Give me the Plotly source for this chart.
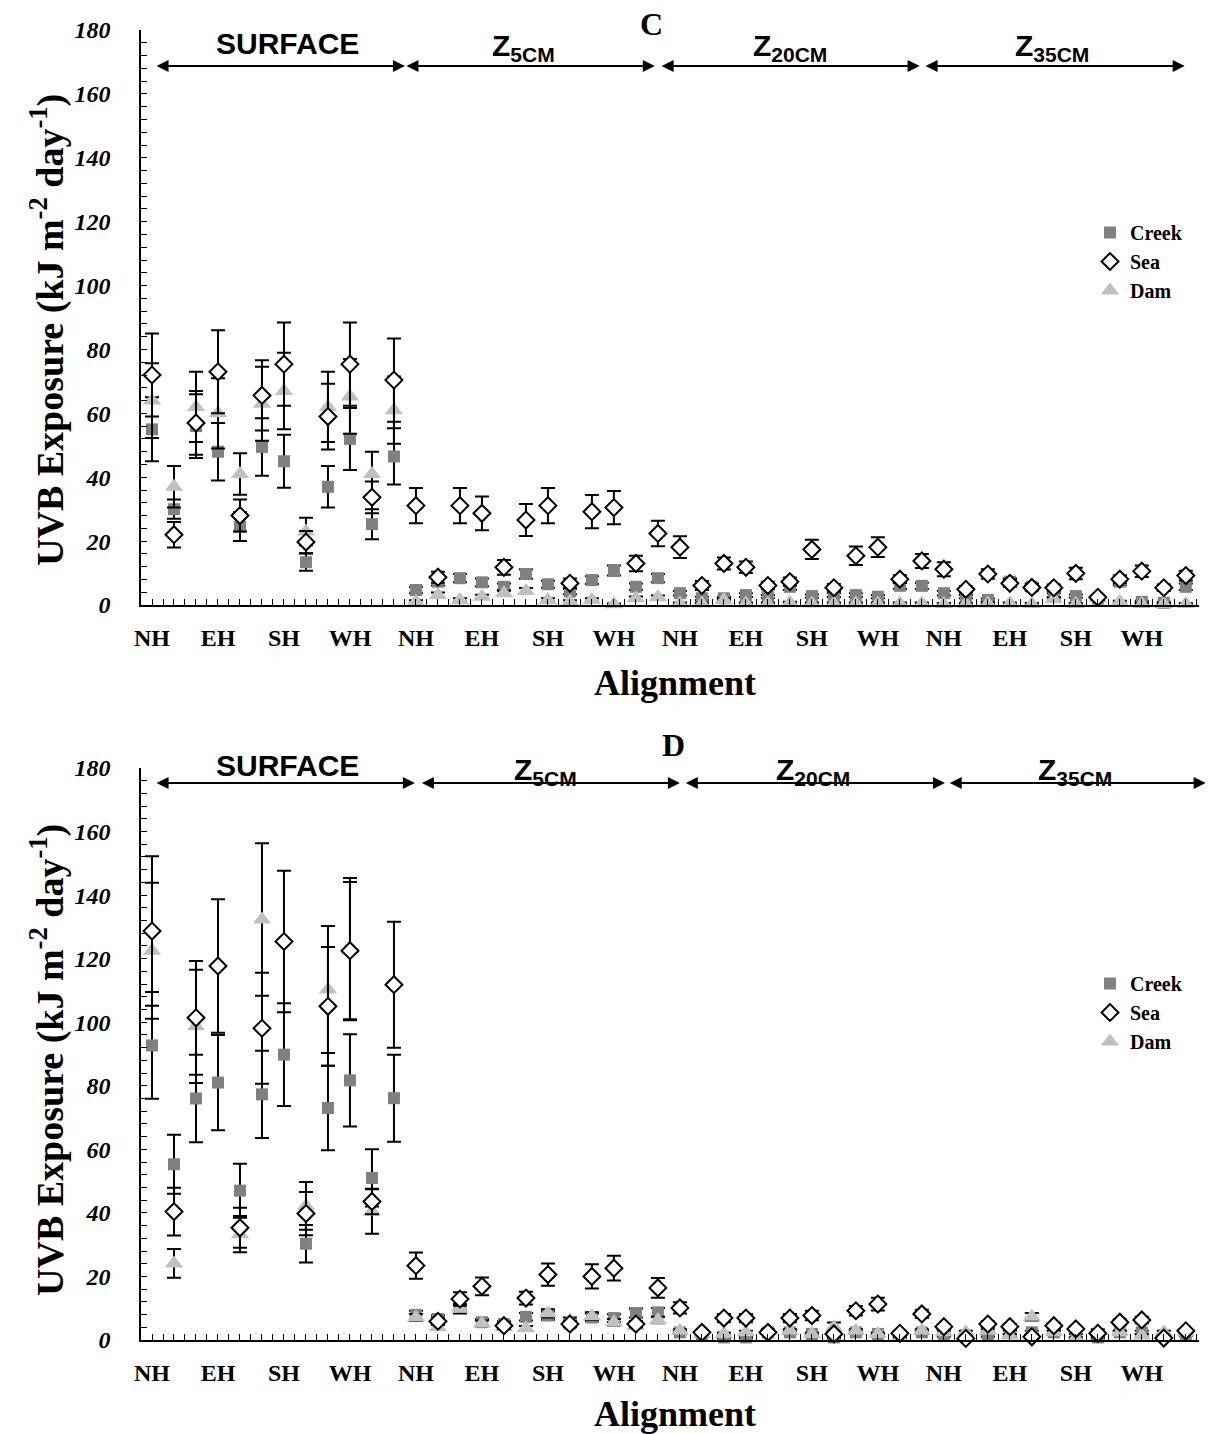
import plotly.graph_objects as go

# ---------------- data ----------------
alignments = ["NH", "", "", "EH", "", "", "SH", "", "", "WH", "", ""] * 4
positions = list(range(48))
tick_pos = [i for i in positions if alignments[i]]
tick_txt = [alignments[i] for i in tick_pos]
sections = ["SURFACE", "Z<sub>5CM</sub>", "Z<sub>20CM</sub>", "Z<sub>35CM</sub>"]

# Panel C
C_creek = [55, 30, 56, 48, 24.5, 49.5, 45, 13.4, 37, 52, 25.3, 46.5,
           4.7, 7.3, 8.4, 7.1, 5.7, 9.7, 6.5, 4.2, 7.8, 10.8, 5.7, 8.4,
           3.7, 2.1, 2.1, 3.1, 2.6, 5.7, 2.8, 3.1, 3.1, 2.6, 6.0, 6.0,
           3.7, 2.6, 1.6, 7.3, 5.7, 3.1, 2.8, 2.0, 7.3, 1.0, 0.7, 5.7]
C_creek_err = [10, 3, 10, 9, 4.5, 9, 8.3, 2.7, 6.5, 9.7, 4.7, 8.8,
               1.0, 1.2, 1.3, 1.2, 1.0, 1.5, 1.1, 0.8, 1.2, 1.6, 1.0, 1.3,
               0.7, 0.5, 0.5, 0.6, 0.5, 1.0, 0.5, 0.6, 0.6, 0.5, 1.0, 1.0,
               0.7, 0.5, 0.4, 1.1, 1.0, 0.6, 0.5, 0.4, 1.1, 0.3, 0.3, 1.0]
C_sea = [72, 22, 57, 73, 28, 65.6, 75.4, 19.7, 59, 75.4, 33.7, 70.4,
         31.1, 8.7, 31.1, 28.7, 11.8, 26.6, 31.1, 6.8, 29.2, 30.5, 13.0, 22.4,
         18.1, 6.1, 13.0, 11.8, 6.1, 7.3, 17.4, 5.4, 15.4, 18.1, 8.1, 13.8,
         11.2, 4.9, 9.7, 6.8, 5.5, 5.4, 9.9, 2.4, 8.1, 10.6, 5.4, 9.2]
C_sea_err = [13, 4, 10, 13, 5, 11, 13, 3.5, 10.3, 13, 5, 13,
             5.5, 1.7, 5.5, 5.3, 2.3, 5.0, 5.5, 1.5, 5.2, 5.2, 2.4, 4.0,
             3.4, 1.4, 1.9, 1.8, 1.2, 1.3, 3.0, 1.2, 2.9, 3.1, 1.2, 2.2,
             2.2, 1.0, 1.5, 1.2, 1.0, 1.0, 1.8, 0.8, 1.2, 1.8, 1.0, 1.5]
C_dam = [64, 37, 62, 60, 41, 63, 67, 23, 62, 65.3, 41, 61,
         1.0, 3.1, 1.6, 2.6, 3.7, 4.4, 1.6, 1.0, 1.6, 0.2, 2.1, 2.4,
         0.5, 0.5, 1.6, 0.5, 0.5, 0.7, 0.5, 0.5, 0.5, 0.5, 0.5, 0.5,
         0.3, 0.3, 0.5, 0.5, 0.3, 1.8, 0.3, 2.1, 1.0, 0.3, 0.3, 0.3]
C_dam_err = [11.7, 6.5, 11, 11, 6.5, 11.6, 12, 4.3, 11, 11.7, 7, 10.5,
             0.5, 0.8, 0.5, 0.6, 0.8, 0.9, 0.5, 0.5, 0.5, 0.3, 0.6, 0.6,
             0.3, 0.3, 0.5, 0.3, 0.3, 0.3, 0.3, 0.3, 0.3, 0.3, 0.3, 0.3,
             0.3, 0.3, 0.3, 0.3, 0.3, 0.5, 0.3, 0.5, 0.3, 0.3, 0.3, 0.3]

# Panel D
D_creek = [92.7, 55.3, 76, 81, 47, 77.3, 89.8, 30.3, 73, 81.7, 51, 76.1,
           7.9, 6.6, 11.3, 5.6, 5.0, 7.3, 7.7, 5.2, 7.1, 6.9, 8.5, 8.7,
           2.4, 1.7, 0.8, 0.8, 2.4, 2.4, 1.9, 0.8, 2.4, 1.9, 1.4, 2.4,
           1.4, 1.4, 1.4, 2.4, 2.4, 2.4, 2.4, 0.8, 2.4, 2.4, 1.4, 1.7]
D_creek_err = [16.8, 9.3, 13.8, 15, 8.5, 13.7, 16.2, 5.9, 13.3, 14.5, 9, 13.7,
               1.3, 1.1, 1.8, 1.0, 0.9, 1.2, 1.3, 0.9, 1.2, 1.2, 1.4, 1.4,
               0.5, 0.4, 0.3, 0.3, 0.5, 0.5, 0.4, 0.3, 0.5, 0.4, 0.4, 0.5,
               0.4, 0.4, 0.4, 0.5, 0.5, 0.5, 0.5, 0.3, 0.5, 0.5, 0.4, 0.4]
D_sea = [128.7, 40.4, 101.4, 117.7, 35.3, 98.1, 125.4, 39.8, 105, 122.5, 43.6, 111.8,
         23.4, 5.9, 12.9, 16.9, 4.5, 13.2, 20.6, 5.0, 20.0, 22.6, 5.0, 16.4,
         10.1, 2.4, 6.9, 6.9, 2.4, 6.9, 7.7, 1.9, 9.2, 11.3, 2.1, 8.2,
         4.2, 0.5, 5.0, 4.2, 1.0, 4.5, 3.5, 2.1, 5.6, 6.3, 0.6, 2.9]
D_sea_err = [23.5, 7.5, 17.9, 21, 6.3, 17.5, 22.3, 6.8, 18.7, 21.6, 4, 19.8,
             4.1, 1.0, 2.1, 2.8, 1.0, 2.0, 3.5, 1.0, 3.8, 3.9, 1.0, 3.1,
             1.8, 0.6, 1.3, 1.3, 0.6, 1.3, 1.5, 0.6, 1.5, 2.0, 0.6, 1.3,
             0.8, 0.5, 0.9, 0.8, 0.5, 0.8, 0.7, 0.5, 0.9, 1.0, 0.5, 0.6]
D_dam = [122.5, 24.1, 98.7, None, 33.3, 132.3, None, 42.2, 110.3, 123, 40.4, None,
         7.1, 4.0, 9.8, 5.2, 4.0, 3.7, 8.4, 6.1, 7.5, 5.6, 4.5, 6.3,
         2.9, 1.9, 1.9, 2.4, 2.9, 2.9, 1.9, 4.0, 2.9, 1.9, 0.6, 2.9,
         2.4, 2.4, 2.9, 1.4, 7.3, 2.4, 0.6, 2.9, 2.4, 1.4, 2.4, 2.4]
D_dam_err = [21.4, 4.5, 17.8, 0, 5.7, 24, 0, 7.5, 20, 22.4, 7, 0,
             1.1, 0.8, 1.5, 0.9, 0.8, 0.7, 1.3, 1.0, 1.2, 1.0, 0.8, 1.0,
             0.5, 0.4, 0.4, 0.5, 0.5, 0.5, 0.4, 1.5, 0.5, 0.4, 0.3, 0.5,
             0.5, 0.5, 0.5, 0.4, 1.2, 0.5, 0.3, 0.5, 0.5, 0.4, 0.5, 0.5]

# ---------------- figure ----------------
W, H = 1218, 1434
ML, MR, MT, MB = 141, 19, 0, 0
PW, PH = W - ML - MR, H - MT - MB
SERIF = "Liberation Serif"
SANS = "Liberation Sans"


def px(p):  # page pixel column -> paper x
    return (p - ML) / PW


def py(p):  # page pixel row -> paper y
    return 1 - (p - MT) / PH


fig = go.Figure()

styles = {
    "Creek": dict(symbol="square", size=12, color="#808080", line=dict(width=0)),
    "Sea": dict(symbol="diamond", size=13, color="white", line=dict(width=2, color="black")),
    "Dam": dict(symbol="triangle-up", size=16, color="#c0c0c0", line=dict(width=0)),
}
ranks = {"Creek": 1, "Sea": 2, "Dam": 3}

panels = [
    ("x", "y", "legend", {"Creek": (C_creek, C_creek_err), "Dam": (C_dam, C_dam_err), "Sea": (C_sea, C_sea_err)}),
    ("x2", "y2", "legend2", {"Creek": (D_creek, D_creek_err), "Dam": (D_dam, D_dam_err), "Sea": (D_sea, D_sea_err)}),
]
for xa, ya, lg, series in panels:
    for name in ["Creek", "Dam", "Sea"]:
        vals, errs = series[name]
        fig.add_trace(go.Scatter(
            x=positions, y=vals, mode="markers", name=name,
            marker=styles[name],
            error_y=dict(type="data", array=errs, visible=True, color="black", thickness=2, width=7),
            xaxis=xa, yaxis=ya, legend=lg, legendrank=ranks[name],
            cliponaxis=False,
        ))

xcommon = dict(
    range=[-0.5, 47.6], showgrid=False, zeroline=False, showline=True, linecolor="black", linewidth=1.5,
    automargin=False,
    tickmode="array", tickvals=tick_pos, ticktext=tick_txt,
    ticks="inside", ticklen=6, tickcolor="black", tickwidth=1,
    minor=dict(tickmode="linear", tick0=-0.5, dtick=0.5, ticks="inside", ticklen=6, tickcolor="black", tickwidth=1),
    tickfont=dict(family=SERIF, size=24, color="black", weight="bold"),
    ticklabelstandoff=10,
)
ycommon = dict(
    range=[0, 180], showgrid=False, zeroline=False, showline=True, linecolor="black", linewidth=1.5,
    automargin=False,
    tickmode="linear", tick0=0, dtick=20,
    ticks="inside", ticklen=6, tickcolor="black", tickwidth=1,
    minor=dict(dtick=4, ticks="inside", ticklen=6, tickcolor="black", tickwidth=1),
    tickfont=dict(family=SERIF, size=24, color="black", weight="bold", style="italic"),
    ticklabelstandoff=24,
)

legfont = dict(family=SERIF, size=20, color="black", weight="bold")
fig.update_layout(
    width=W, height=H, margin=dict(l=ML, r=MR, t=MT, b=MB, autoexpand=False),
    paper_bgcolor="white", plot_bgcolor="white",
    xaxis=dict(domain=[0, 1], anchor="y", **xcommon),
    yaxis=dict(domain=[py(605), py(30)], anchor="x", **ycommon),
    xaxis2=dict(domain=[0, 1], anchor="y2", **xcommon),
    yaxis2=dict(domain=[py(1340), py(768)], anchor="x2", **ycommon),
    legend=dict(x=px(1090), y=py(213), xanchor="left", yanchor="top", bgcolor="rgba(0,0,0,0)",
                font=legfont, itemwidth=30, tracegroupgap=0),
    legend2=dict(x=px(1090), y=py(964), xanchor="left", yanchor="top", bgcolor="rgba(0,0,0,0)",
                 font=legfont, itemwidth=30, tracegroupgap=0),
    showlegend=True,
)

ann = []
# section arrows and labels
arrow_sets = [
    ("x", "y", 168.7, [(0.14, 11.5), (11.5, 22.86), (23.1, 34.9), (35.1, 46.95)],
     [(287, 44), (523, 48), (790, 48), (1052, 48)]),
    ("x2", "y2", 175.3, [(0.14, 11.95), (12.2, 24.0), (24.2, 36.05), (36.2, 47.9)],
     [(287, 765), (545, 771), (813, 771), (1075, 771)]),
]
for xr, yr, yv, spans, labs in arrow_sets:
    for (a, b), (lx, ly), sec in zip(spans, labs, sections):
        ann.append(dict(x=b, y=yv, ax=a, ay=yv, xref=xr, yref=yr, axref=xr, ayref=yr,
                        text="", showarrow=True, arrowhead=2, arrowside="end+start",
                        arrowsize=1.2, arrowwidth=2, arrowcolor="black"))
        ann.append(dict(x=px(lx), y=py(ly), xref="paper", yref="paper", text=sec, showarrow=False,
                        font=dict(family=SANS, size=30, color="black", weight="bold"),
                        xanchor="center", yanchor="middle"))

# panel letters
ann.append(dict(x=px(651), y=py(24), xref="paper", yref="paper", text="C", showarrow=False,
                xanchor="center", yanchor="middle",
                font=dict(family=SERIF, size=32, color="black", weight="bold")))
ann.append(dict(x=px(673), y=py(745), xref="paper", yref="paper", text="D", showarrow=False,
                xanchor="center", yanchor="middle",
                font=dict(family=SERIF, size=32, color="black", weight="bold")))

# axis titles
for yc, xt_y in [(330, 683), (1060, 1414)]:
    ann.append(dict(x=px(47), y=py(yc), xref="paper", yref="paper", textangle=-90,
                    text="UVB Exposure (kJ m<sup>-2</sup> day<sup>-1</sup>)", showarrow=False,
                    font=dict(family=SERIF, size=38, color="black", weight="bold"),
                    xanchor="center", yanchor="middle"))
    ann.append(dict(x=px(675), y=py(xt_y), xref="paper", yref="paper", text="Alignment", showarrow=False,
                    font=dict(family=SERIF, size=36, color="black", weight="bold"),
                    xanchor="center", yanchor="middle"))

fig.update_layout(annotations=ann)
fig.write_html("out.html", config={"displayModeBar": False},
               post_script="document.body.style.margin='0px';")
